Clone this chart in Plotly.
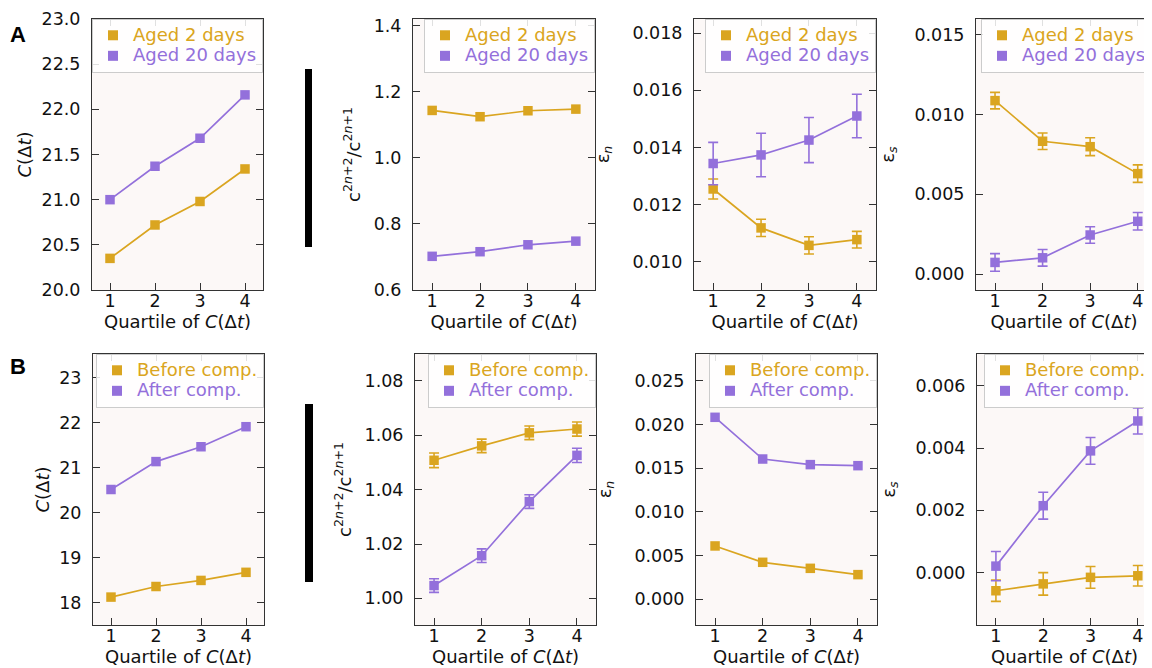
import plotly.graph_objects as go

# ---------------- data ----------------
quartiles = [1, 2, 3, 4]
xtick_labels = ["1", "2", "3", "4"]

# Row A
A_C_aged2 = [20.35, 20.72, 20.98, 21.34]
A_C_aged20 = [21.00, 21.37, 21.68, 22.16]

A_ratio_aged2 = [1.144, 1.125, 1.143, 1.148]
A_ratio_aged20 = [0.702, 0.716, 0.737, 0.748]

A_epsn_aged2 = [0.01255, 0.01119, 0.01058, 0.01078]
A_epsn_aged2_err = [0.00035, 0.00030, 0.00030, 0.00029]
A_epsn_aged20 = [0.01344, 0.01374, 0.01426, 0.01510]
A_epsn_aged20_err = [0.00074, 0.00076, 0.00079, 0.00076]

A_epss_aged2 = [0.01088, 0.00833, 0.00799, 0.00630]
A_epss_aged2_err = [0.00052, 0.00052, 0.00056, 0.00055]
A_epss_aged20 = [0.00073, 0.00102, 0.00245, 0.00331]
A_epss_aged20_err = [0.00055, 0.00052, 0.00052, 0.00055]

# Row B
B_C_before = [18.12, 18.355, 18.49, 18.67]
B_C_after = [20.51, 21.13, 21.46, 21.905]

B_ratio_before = [1.0508, 1.0561, 1.0609, 1.0623]
B_ratio_before_err = [0.0027, 0.0025, 0.0025, 0.0026]
B_ratio_after = [1.0047, 1.0157, 1.0356, 1.0526]
B_ratio_after_err = [0.0025, 0.0025, 0.0025, 0.0026]

B_epsn_before = [0.0061, 0.00423, 0.00354, 0.00282]
B_epsn_after = [0.02081, 0.01604, 0.01540, 0.01528]

B_epss_before = [-0.00058, -0.00036, -0.00015, -0.00010]
B_epss_before_err = [0.00034, 0.00036, 0.00035, 0.00033]
B_epss_after = [0.00021, 0.00215, 0.00391, 0.00487]
B_epss_after_err = [0.00047, 0.00043, 0.00043, 0.00042]

labels_A = ["Aged 2 days", "Aged 20 days"]
labels_B = ["Before comp.", "After comp."]

GOLD = "#DAA520"
PURPLE = "#9370DB"

# the page body has an 8px margin, so the figure is sized to the visible area
OFF = 8
W, H = 1152 - OFF, 668 - OFF
FONT = "DejaVu Sans"


def px_x(p):
    return (p - OFF) / W


def px_y(p):
    return 1 - (p - OFF) / H


C_TITLE = "<i>C</i>(Δ<i>t</i>)"
RATIO_TITLE = "c<sup>2<i>n</i>+2</sup>/c<sup>2<i>n</i>+1</sup>"
EPSN_TITLE = "ε<sub><i>n</i></sub>"
EPSS_TITLE = "ε<sub><i>s</i></sub>"

panels = [
    dict(xp=(92, 263), yp=(19, 290), yr=[20.0, 23.0], dt=0.5, t0=20, fmt=".1f", yt=C_TITLE, lab=labels_A,
         s=[(A_C_aged2, None), (A_C_aged20, None)], so=5),
    dict(xp=(413, 595), yp=(19, 290), yr=[0.6, 1.421], dt=0.2, t0=0.6, fmt=".1f", yt=RATIO_TITLE, lab=labels_A,
         s=[(A_ratio_aged2, None), (A_ratio_aged20, None)], so=8),
    dict(xp=(694, 876), yp=(19, 290), yr=[0.00902, 0.01849], dt=0.002, t0=0.0, fmt=".3f", yt=EPSN_TITLE, lab=labels_A,
         s=[(A_epsn_aged2, A_epsn_aged2_err), (A_epsn_aged20, A_epsn_aged20_err)], so=18),
    dict(xp=(976, 1152), yp=(19, 290), yr=[-0.001, 0.0160], dt=0.005, t0=0.0, fmt=".3f", yt=EPSS_TITLE, lab=labels_A,
         s=[(A_epss_aged2, A_epss_aged2_err), (A_epss_aged20, A_epss_aged20_err)], xr=4.3, so=15),
    dict(xp=(93, 264), yp=(354, 625), yr=[17.5, 23.52], dt=1, t0=18, fmt="d", yt=C_TITLE, lab=labels_B,
         s=[(B_C_before, None), (B_C_after, None)], so=4),
    dict(xp=(415, 596), yp=(354, 625), yr=[0.9902, 1.0899], dt=0.02, t0=1.0, fmt=".2f", yt=RATIO_TITLE, lab=labels_B,
         s=[(B_ratio_before, B_ratio_before_err), (B_ratio_after, B_ratio_after_err)], so=8),
    dict(xp=(696, 877), yp=(354, 625), yr=[-0.00294, 0.02805], dt=0.005, t0=0.0, fmt=".3f", yt=EPSN_TITLE, lab=labels_B,
         s=[(B_epsn_before, None), (B_epsn_after, None)], so=18),
    dict(xp=(977, 1152), yp=(354, 625), yr=[-0.00168, 0.00702], dt=0.002, t0=0.0, fmt=".3f", yt=EPSS_TITLE, lab=labels_B,
         s=[(B_epss_before, B_epss_before_err), (B_epss_after, B_epss_after_err)], xr=4.3, so=15),
]

fig = go.Figure()
layout = dict(
    width=W, height=H,
    margin=dict(l=0, r=0, t=0, b=0),
    paper_bgcolor="white",
    plot_bgcolor="#fcf8f7",
    font=dict(family=FONT, size=18, color="#111"),
    showlegend=True,
)

colors = [GOLD, PURPLE]
for i, p in enumerate(panels, start=1):
    xa = "x" if i == 1 else f"x{i}"
    ya = "y" if i == 1 else f"y{i}"
    lg = "legend" if i == 1 else f"legend{i}"
    for (vals, err), c, name in zip(p["s"], colors, p["lab"]):
        tr = dict(
            x=quartiles, y=vals, mode="lines+markers", xaxis=xa, yaxis=ya,
            line=dict(color=c, width=1.7),
            marker=dict(symbol="square", size=9.5, color=c),
            showlegend=False, hoverinfo="x+y",
        )
        if err is not None:
            tr["error_y"] = dict(type="data", array=err, visible=True, color=c, thickness=1.6, width=5)
        fig.add_trace(go.Scatter(**tr))
        # legend-only marker entry (square marker, no line)
        fig.add_trace(go.Scatter(
            x=[None], y=[None], mode="markers", xaxis=xa, yaxis=ya,
            marker=dict(symbol="square", size=10, color=c),
            name=f'<span style="color:{c};font-size:18px">{name}</span>',
            legend=lg, showlegend=True,
        ))
    x0, x1 = p["xp"]
    yt0, yb0 = p["yp"]
    xr_hi = p.get("xr", 4.4)
    axkey_x = "xaxis" if i == 1 else f"xaxis{i}"
    axkey_y = "yaxis" if i == 1 else f"yaxis{i}"
    common = dict(
        ticks="inside", ticklen=7, tickwidth=1, tickcolor="#333",
        showline=True, linecolor="#333", linewidth=1, mirror="allticks",
        showgrid=False, zeroline=False, automargin=False,
        tickfont=dict(family=FONT, size=17.5, color="#111"),
    )
    layout[axkey_x] = dict(
        common, domain=[px_x(x0), px_x(x1)], range=[0.6, xr_hi],
        tickmode="array", tickvals=quartiles, ticktext=xtick_labels,
        anchor=ya, ticklabelstandoff=-5,
        title=dict(text="Quartile of <i>C</i>(Δ<i>t</i>)", font=dict(family=FONT, size=18, color="#111"), standoff=3),
    )
    layout[axkey_y] = dict(
        common, domain=[px_y(yb0), px_y(yt0)], range=p["yr"],
        tickmode="linear", dtick=p["dt"], tick0=p["t0"], tickformat=p["fmt"],
        anchor=xa, ticklabelstandoff=7,
        title=dict(text=p["yt"], font=dict(family=FONT, size=18, color="#111"), standoff=p["so"]),
    )
    layout[lg] = dict(
        x=px_x(x1), y=px_y(yt0), xanchor="right", yanchor="top",
        xref="paper", yref="paper",
        bgcolor="rgba(255,255,255,0.85)", bordercolor="#cccccc", borderwidth=1,
        font=dict(family=FONT, size=13.5), tracegroupgap=0, itemwidth=30,
    )

fig.update_layout(**layout)

# panel letters
for txt, ypx in [("A", 35), ("B", 366)]:
    fig.add_annotation(
        x=px_x(18), y=px_y(ypx), xref="paper", yref="paper", text=f"<b>{txt}</b>",
        showarrow=False, xanchor="center", yanchor="middle",
        font=dict(family="Liberation Sans", size=22, color="black"),
    )

# black vertical bars
for (bx0, bx1, by0, by1) in [(305, 312, 69, 247), (305, 313, 404, 582)]:
    fig.add_shape(
        type="rect", xref="paper", yref="paper",
        x0=px_x(bx0), x1=px_x(bx1), y0=px_y(by1), y1=px_y(by0),
        fillcolor="black", line=dict(width=0),
    )

fig.write_html("out.html")
